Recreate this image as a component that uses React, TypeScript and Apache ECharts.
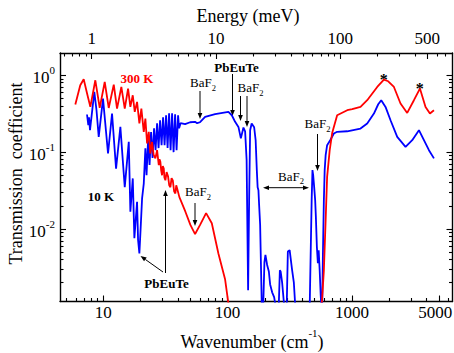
import React, { useEffect, useRef } from 'react';
import * as echarts from 'echarts';

const FONT = 'Liberation Serif';
const MEV_TO_CM = 8.0655;
const X_MIN = 4.48;
const X_MAX = 6450;
const Y_MIN = 0.00114;
const Y_MAX = 1.95;

// 300 K spectrum (red)
const redWavenumber = [
  5.95, 6.52, 6.95, 7.39, 7.86, 8.62, 9.35, 10.26, 11.05, 12.13, 12.89, 13.96, 14.87, 15.81, 16.5,
  17.25, 17.9, 18.68, 19.5, 20.23, 21.15, 21.79, 22.49, 23.21, 23.89, 24.66, 25.4, 26.23, 27.07, 27.93,
  28.3, 28.77, 29.2, 29.69, 30.1, 30.64, 31.0, 31.57, 32.3, 33.2, 33.9, 34.64, 35.4, 36.22, 37.1, 37.99,
  38.6, 39.21, 40.92, 45.74, 50.17, 54.73, 60.04,
  67.13, 74.6, 84.3, 95.5, 103,
  569, 595, 615, 632, 663, 694, 761, 917, 1006, 1173, 1328, 1599, 1810, 1960, 2179, 2462, 2787,
  3156, 3528, 3914, 4246, 4574,
];
const redTransmission = [
  0.416, 0.741, 0.887, 0.584, 0.388, 0.861, 0.376, 0.818, 0.376, 0.757, 0.369, 0.705, 0.369, 0.672, 0.388,
  0.55, 0.334, 0.45, 0.236, 0.369, 0.184, 0.274, 0.13, 0.184, 0.096, 0.136, 0.092, 0.083, 0.106, 0.068,
  0.081, 0.075, 0.058, 0.05, 0.066, 0.061, 0.047, 0.043, 0.055, 0.048, 0.037, 0.035, 0.046, 0.043, 0.031, 0.029,
  0.037, 0.034, 0.026, 0.0168, 0.0113, 0.0086, 0.0113,
  0.0161, 0.0119, 0.0048, 0.0022, 0.0009,
  0.0009, 0.0029, 0.0131, 0.0478, 0.106, 0.177, 0.302, 0.351, 0.362, 0.388, 0.474, 0.705, 0.879, 0.836,
  0.705, 0.429, 0.324, 0.474, 0.672, 0.388, 0.318, 0.351,
];

// 10 K spectrum (blue)
const blueWavenumber = [
  7.39, 7.57, 7.67, 7.81, 8.46, 8.81, 9.18, 9.94, 10.91, 11.75, 12.66, 13.71, 14.87, 16.02, 16.5,
  17.25, 17.77, 18.68, 19.03, 19.5, 19.93, 20.5, 21.15, 21.79, 22.27, 22.9, 23.55, 24.21, 24.89,
  25.59, 26.32, 27.07, 27.82, 28.61, 29.42, 30.25, 31.1, 31.98, 32.88, 33.81, 34.76, 35.74, 36.75,
  37.79, 38.85, 39.94, 40.7, 41.84, 45.5, 49.9, 54.7, 56.8, 60.0, 65.9, 79.3, 101.5, 108.1, 114.9,
  122.2, 127.8, 134.1, 138.3, 142.2, 146.2, 149, 151.8, 156.1, 163.5, 168.1, 171.8, 174.4, 177,
  179.3, 182.7, 188.6, 193.1, 197.8, 201.5, 208, 214.7, 219.9, 228.2, 236.8, 245.8, 257.4, 263.3,
  267.2, 274.7, 282.4, 287.7, 298.6, 305.3, 315.6, 330.6, 341.2, 351.5, 457.3, 464.2, 474.6, 481.7,
  488, 497, 506.3, 513, 522.6, 532.4, 540.4, 550.5, 560.8, 569, 576.6, 584.1, 595, 604, 615, 632,
  669, 716, 761, 917, 1173, 1328, 1504, 1629, 1722, 1865, 2046, 2316, 2702, 3058, 3464, 3799, 4169,
  4574,
];
const blueTransmission = [
  0.309, 0.224, 0.285, 0.193, 0.607, 0.351, 0.158, 0.498, 0.096, 0.318, 0.061, 0.213, 0.035, 0.136, 0.0168,
  0.0455, 0.0076, 0.0226, 0.0072, 0.0048, 0.0097, 0.025, 0.039, 0.112, 0.05, 0.143, 0.068, 0.182, 0.084,
  0.205, 0.106, 0.238, 0.113, 0.26, 0.123, 0.285, 0.123, 0.302, 0.113, 0.321, 0.106, 0.321, 0.1,
  0.312, 0.106, 0.302, 0.205, 0.238, 0.231, 0.245, 0.248, 0.238, 0.245, 0.287, 0.312, 0.334, 0.302, 0.248,
  0.213, 0.151, 0.209, 0.187, 0.079, 0.0016, 0.024, 0.193, 0.236, 0.211, 0.143, 0.058, 0.035, 0.032,
  0.0205, 0.0113, 0.0009, 0.0009, 0.0037, 0.0046, 0.0034, 0.0028, 0.0019, 0.0015, 0.0013, 0.0009, 0.0009, 0.0029,
  0.0028, 0.002, 0.0012, 0.0009, 0.0009, 0.0051, 0.0053, 0.0029, 0.002, 0.0009, 0.0009, 0.0034, 0.0238, 0.0584,
  0.0503, 0.0354, 0.0238, 0.0145, 0.0059, 0.0036, 0.0053, 0.0029, 0.0014, 0.0009, 0.0009, 0.0044, 0.0238, 0.0584, 0.0914, 0.123,
  0.143, 0.175, 0.184, 0.187, 0.203, 0.236, 0.318, 0.42, 0.474, 0.388, 0.26, 0.158, 0.117, 0.143, 0.193, 0.143, 0.106,
  0.083,
];

// ticks
const wnMajorTicks = [10, 100, 1000, 5000];
const wnMinorTicks = [5, 6, 7, 8, 9, 20, 30, 40, 50, 60, 70, 80, 90, 200, 300, 400, 500, 600, 700, 800, 900, 2000, 3000, 4000, 6000];
const meVMajorTicks = [1, 10, 100, 500];
const meVMinorTicks = [0.6, 0.7, 0.8, 0.9, 2, 3, 4, 5, 6, 7, 8, 9, 20, 30, 40, 50, 60, 70, 80, 90, 200, 300, 400, 600, 700];
const tMajorTicks = [0.01, 0.1, 1];
const tMinorTicks = [0.002, 0.003, 0.004, 0.005, 0.006, 0.007, 0.008, 0.009, 0.02, 0.03, 0.04, 0.05, 0.06, 0.07, 0.08, 0.09, 0.2, 0.3, 0.4, 0.5, 0.6, 0.7, 0.8, 0.9];

function logAxis(position: string, min: number, max: number, ticks: number[], len: number, showLine: boolean, label?: any) {
  return {
    type: 'log',
    logBase: 10,
    position,
    min,
    max,
    axisLine: { show: showLine, onZero: false, lineStyle: { color: '#000', width: 1.4 } },
    axisTick: { show: true, inside: true, length: len, customValues: ticks, lineStyle: { color: '#000', width: 1.1 } },
    axisLabel: label || { show: false },
    splitLine: { show: false },
    minorTick: { show: false },
    minorSplitLine: { show: false },
  };
}

function arrow(x1: number, y1: number, x2: number, y2: number): any[] {
  const dx = x2 - x1;
  const dy = y2 - y1;
  const len = Math.sqrt(dx * dx + dy * dy);
  const ux = dx / len;
  const uy = dy / len;
  const hl = 6;
  const hw = 2.3;
  const bx = x2 - ux * hl;
  const by = y2 - uy * hl;
  const px = -uy;
  const py = ux;
  return [
    { type: 'line', silent: true, shape: { x1, y1, x2: bx, y2: by }, style: { stroke: '#000', lineWidth: 1 } },
    {
      type: 'polygon',
      silent: true,
      shape: { points: [[x2, y2], [bx + px * hw, by + py * hw], [bx - px * hw, by - py * hw]] },
      style: { fill: '#000' },
    },
  ];
}

function plainText(x: number, y: number, text: string, size: number, bold: boolean, fill = '#000'): any {
  return {
    type: 'text',
    silent: true,
    x,
    y,
    style: {
      text,
      fontFamily: FONT,
      fontSize: size,
      fontWeight: bold ? 'bold' : 'normal',
      fill,
      align: 'center',
      verticalAlign: 'middle',
    },
  };
}

function baf2(x: number, y: number): any {
  return {
    type: 'text',
    silent: true,
    x,
    y,
    style: {
      text: '{m|BaF}{s|2}',
      fontFamily: FONT,
      align: 'center',
      verticalAlign: 'middle',
      rich: {
        m: { fontSize: 13, fontFamily: FONT, fill: '#000', verticalAlign: 'top' },
        s: { fontSize: 8.5, fontFamily: FONT, fill: '#000', verticalAlign: 'top', padding: [7, 0, 0, 0] },
      },
    },
  };
}

export default function App() {
  const ref = useRef<HTMLDivElement>(null);

  useEffect(() => {
    if (!ref.current) return;
    const chart = echarts.init(ref.current, null, { renderer: 'svg', width: 454, height: 353 });

    const redData = redWavenumber.map((x, i) => [x, redTransmission[i]]);
    const blueData = blueWavenumber.map((x, i) => [x, blueTransmission[i]]);

    const supRich = {
      b: { fontSize: 17, fontFamily: FONT, color: '#000', verticalAlign: 'top', padding: [5, 0, 0, 0] },
      s: { fontSize: 11, fontFamily: FONT, color: '#000', verticalAlign: 'top' },
    };

    const graphics: any[] = [
      // axis titles
      plainText(248, 16, 'Energy (meV)', 18, false),
      {
        type: 'text', silent: true, x: 252, y: 339,
        style: {
          text: '{a|Wavenumber (cm}{s|-1}{a|)}',
          fontFamily: FONT,
          align: 'center',
          verticalAlign: 'middle',
          rich: {
            a: { fontSize: 18, fontFamily: FONT, fill: '#000', verticalAlign: 'top', padding: [5, 0, 0, 0] },
            s: { fontSize: 11, fontFamily: FONT, fill: '#000', verticalAlign: 'top' },
          },
        },
      },
      {
        type: 'text', silent: true, x: 16, y: 173.5, rotation: Math.PI / 2,
        style: {
          text: 'Transmission  coefficient', fontFamily: FONT, fontSize: 18, fill: '#000',
          align: 'center', verticalAlign: 'middle',
        },
      },
      // annotations
      plainText(137, 78, '300 K', 13, true, '#ff0000'),
      plainText(101, 196, '10 K', 13, true),
      plainText(236.5, 67, 'PbEuTe', 13, true),
      plainText(166.5, 283, 'PbEuTe', 13, true),
      baf2(203, 84),
      baf2(250.5, 89),
      baf2(317.5, 125),
      baf2(291, 177.5),
      baf2(198, 193),
      plainText(383.7, 79, '*', 16, true),
      plainText(419.7, 88, '*', 16, true),
      ...arrow(200, 91, 200, 119),
      ...arrow(232.5, 74, 232.5, 116),
      ...arrow(240.5, 96, 240.5, 121),
      ...arrow(247, 96, 247, 127),
      ...arrow(317.5, 134, 317.5, 171),
      ...arrow(195, 203, 195, 226),
      ...arrow(286, 187.7, 263, 187.7),
      ...arrow(286, 187.7, 309, 187.7),
      ...arrow(165.5, 273, 165.5, 190),
      ...arrow(163, 272, 140.5, 256),
    ];

    chart.setOption({
      animation: false,
      backgroundColor: '#fff',
      textStyle: { fontFamily: FONT },
      grid: { left: 60, right: 1.5, top: 53, bottom: 51.5, containLabel: false, outerBoundsMode: 'none' },
      xAxis: [
        logAxis('bottom', X_MIN, X_MAX, wnMajorTicks, 6, true, {
          show: true,
          customValues: wnMajorTicks,
          formatter: (v: number) => {
            const n = Math.round(v);
            return n >= 5000 ? `{r|${n}}` : `{n|${n}}`;
          },
          rich: {
            n: { fontFamily: FONT, fontSize: 17, color: '#000' },
            r: { fontFamily: FONT, fontSize: 17, color: '#000', padding: [0, 7, 0, 0] },
          },
          fontFamily: FONT,
          fontSize: 17,
          color: '#000',
          margin: 2,
        }),
        logAxis('bottom', X_MIN, X_MAX, wnMinorTicks, 3.5, false),
        logAxis('top', X_MIN / MEV_TO_CM, X_MAX / MEV_TO_CM, meVMajorTicks, 6, true, {
          show: true,
          customValues: meVMajorTicks,
          formatter: (v: number) => String(Math.round(v)),
          fontFamily: FONT,
          fontSize: 17,
          color: '#000',
          margin: 6,
        }),
        logAxis('top', X_MIN / MEV_TO_CM, X_MAX / MEV_TO_CM, meVMinorTicks, 3.5, false),
      ],
      yAxis: [
        logAxis('left', Y_MIN, Y_MAX, tMajorTicks, 6, true, {
          show: true,
          customValues: tMajorTicks,
          formatter: (v: number) => `{b|10}{s|${Math.round(Math.log10(v))}}`,
          fontFamily: FONT,
          rich: supRich,
          margin: 5,
        }),
        logAxis('left', Y_MIN, Y_MAX, tMinorTicks, 3.5, false),
        logAxis('right', Y_MIN, Y_MAX, tMajorTicks, 6, true),
        logAxis('right', Y_MIN, Y_MAX, tMinorTicks, 3.5, false),
      ],
      series: [
        {
          name: '10 K',
          type: 'line',
          xAxisIndex: 0,
          yAxisIndex: 0,
          data: blueData,
          showSymbol: false,
          symbol: 'none',
          clip: true,
          lineStyle: { color: '#0000ff', width: 1.8 },
          z: 2,
        },
        {
          name: '300 K',
          type: 'line',
          xAxisIndex: 0,
          yAxisIndex: 0,
          data: redData,
          showSymbol: false,
          symbol: 'none',
          clip: true,
          lineStyle: { color: '#ff0000', width: 1.8 },
          z: 3,
        },
      ],
      graphic: graphics,
    });

    return () => {
      chart.dispose();
    };
  }, []);

  return <div ref={ref} style={{ position: 'absolute', left: 0, top: 0, width: 454, height: 353 }} />;
}
